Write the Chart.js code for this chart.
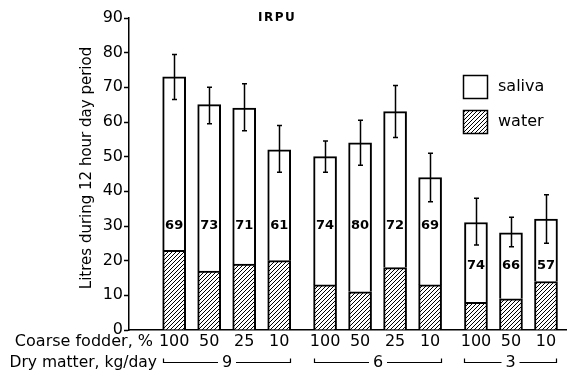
<!DOCTYPE html>
<html lang="en">
<head>
<meta charset="utf-8">
<title>IRPU</title>
<script src="https://cdn.jsdelivr.net/npm/chart.js@4.4.1/dist/chart.umd.min.js"></script>
<style>
  html, body { margin: 0; padding: 0; background: #fff; }
  #wrap { width: 567px; height: 377px; }
</style>
</head>
<body>
<div id="wrap"><canvas id="graficoSaliva" width="567" height="377"></canvas></div>
<script>
// === Data: litres per 12 h day period ===
const coarseFodder = [100, 50, 25, 10, 100, 50, 25, 10, 100, 50, 10];
const dryMatter = ["9", "6", "3"];
const groupSizes = [4, 4, 3];
const water = [23, 17, 19, 20, 13, 11, 18, 13, 8, 9, 14];
const saliva = [50, 48, 45, 32, 37, 43, 45, 31, 23, 19, 18];
const errLow = [66.5, 59.5, 57.5, 45.5, 45.5, 47.5, 55.5, 37, 24.5, 24, 25];
const errHigh = [79.5, 70, 71, 59, 54.5, 60.5, 70.5, 51, 38, 32.5, 39];
const salivaPct = [69, 73, 71, 61, 74, 80, 72, 69, 74, 66, 57];

const FONT = "'DejaVu Sans', sans-serif";
const GROUP_GAP = 0.31;

// slot index of each bar along the x axis, with a small gap between dry-matter groups
const slots = [];
let start = 0;
groupSizes.forEach((n) => {
  for (let i = 0; i < n; i++) slots.push(start + i);
  start += n + GROUP_GAP;
});

document.addEventListener("DOMContentLoaded", () => {
  const ctx = document.getElementById("graficoSaliva").getContext("2d");

  // === Hatch fill for the water part ===
  function makeHatch() {
    const c = document.createElement("canvas");
    c.width = 4;
    c.height = 4;
    const h = c.getContext("2d");
    h.fillStyle = "#fff";
    h.fillRect(0, 0, 4, 4);
    h.strokeStyle = "#000";
    h.lineWidth = 1;
    h.beginPath();
    h.moveTo(-1, 5); h.lineTo(5, -1);
    h.moveTo(-1, 1); h.lineTo(1, -1);
    h.moveTo(3, 5); h.lineTo(5, 3);
    h.stroke();
    return ctx.createPattern(c, "repeat");
  }
  const hatch = makeHatch();

  // === Error bars, percentages, legend and the labels under the axis ===
  const extras = {
    id: "extras",
    afterDatasetsDraw(chart) {
      const c = chart.ctx;
      const xs = chart.scales.x;
      const ys = chart.scales.y;
      c.save();
      c.strokeStyle = "#000";
      c.fillStyle = "#000";

      // error bars
      c.lineWidth = 1.5;
      slots.forEach((v, i) => {
        const x = Math.round(xs.getPixelForValue(v)) + 0.5;
        const y1 = ys.getPixelForValue(errLow[i]);
        const y2 = ys.getPixelForValue(errHigh[i]);
        c.beginPath();
        c.moveTo(x, y1); c.lineTo(x, y2);
        c.moveTo(x - 2.5, y1); c.lineTo(x + 2.5, y1);
        c.moveTo(x - 2.5, y2); c.lineTo(x + 2.5, y2);
        c.stroke();
      });

      // saliva share (%) inside each bar
      c.font = "bold 13px " + FONT;
      c.textAlign = "center";
      c.textBaseline = "middle";
      slots.forEach((v, i) => {
        const total = water[i] + saliva[i];
        const level = total > 40 ? 30 : 18.5;
        c.fillText(String(salivaPct[i]), xs.getPixelForValue(v), ys.getPixelForValue(level));
      });
      c.restore();
    },
    afterDraw(chart) {
      const c = chart.ctx;
      const xs = chart.scales.x;
      c.save();
      c.fillStyle = "#000";
      c.strokeStyle = "#000";

      // title
      c.font = "bold 12px " + FONT;
      c.letterSpacing = "1.5px";
      c.textAlign = "left";
      c.textBaseline = "middle";
      c.fillText("IRPU", 258, 17.5);
      c.letterSpacing = "0px";

      // y axis title
      c.save();
      c.translate(87, 168);
      c.rotate(-Math.PI / 2);
      c.font = "15px " + FONT;
      c.textAlign = "center";
      c.textBaseline = "middle";
      c.fillText("Litres during 12 hour day period", 0, 0);
      c.restore();

      // legend
      const items = [
        { label: "saliva", fill: "#fff", y: 75 },
        { label: "water", fill: hatch, y: 110 },
      ];
      c.lineWidth = 1.5;
      c.font = "16px " + FONT;
      c.textAlign = "left";
      c.textBaseline = "middle";
      items.forEach((it) => {
        c.fillStyle = it.fill;
        c.fillRect(463, it.y, 25, 23);
        c.strokeRect(463.5, it.y + 0.5, 24, 23);
        c.fillStyle = "#000";
        c.fillText(it.label, 498, it.y + 11.5);
      });

      // row captions under the axis
      c.textAlign = "right";
      c.font = "16px " + FONT;
      c.fillText("Coarse fodder, %", 153, 342);
      c.font = "15.5px " + FONT;
      c.fillText("Dry matter, kg/day", 157, 363);

      // dry matter brackets
      const half = 11.5;
      let k = 0;
      c.lineWidth = 1.2;
      c.textAlign = "center";
      c.font = "16px " + FONT;
      groupSizes.forEach((n, g) => {
        const x0 = Math.round(xs.getPixelForValue(slots[k]) - half);
        const x1 = Math.round(xs.getPixelForValue(slots[k + n - 1]) + half);
        const mid = (x0 + x1) / 2;
        const y = 362.5;
        c.beginPath();
        c.moveTo(x0 + 0.5, y - 4); c.lineTo(x0 + 0.5, y); c.lineTo(mid - 9, y);
        c.moveTo(mid + 9, y); c.lineTo(x1 - 0.5, y); c.lineTo(x1 - 0.5, y - 4);
        c.stroke();
        c.fillText(dryMatter[g], mid, 363);
        k += n;
      });
      c.restore();
    },
  };

  const barStyle = {
    borderColor: "#000",
    borderWidth: 2,
    barThickness: 23,
    stack: "total",
  };

  new Chart(ctx, {
    type: "bar",
    data: {
      datasets: [
        {
          ...barStyle,
          label: "water",
          data: slots.map((x, i) => ({ x, y: water[i] })),
          backgroundColor: hatch,
        },
        {
          ...barStyle,
          label: "saliva",
          data: slots.map((x, i) => ({ x, y: saliva[i] })),
          backgroundColor: "#fff",
        },
      ],
    },
    options: {
      responsive: false,
      animation: false,
      layout: { padding: { top: 18, right: 0, bottom: 0, left: 0 } },
      plugins: {
        legend: { display: false },
        tooltip: { enabled: false },
      },
      scales: {
        x: {
          type: "linear",
          offset: false,
          min: -1.29,
          max: 11.22,
          stacked: true,
          afterBuildTicks: (s) => {
            s.ticks = slots.map((v) => ({ value: v }));
          },
          afterFit: (s) => {
            s.height = 47;
          },
          ticks: {
            autoSkip: false,
            maxRotation: 0,
            padding: 2,
            color: "#000",
            font: { family: FONT, size: 16 },
            callback: (v, i) => coarseFodder[i],
          },
          grid: { drawOnChartArea: false, drawTicks: false },
          border: { color: "#000", width: 1.5 },
        },
        y: {
          min: 0,
          max: 90,
          stacked: true,
          afterFit: (s) => {
            s.width = 129;
          },
          ticks: {
            stepSize: 10,
            padding: 1,
            color: "#000",
            font: { family: FONT, size: 16 },
          },
          grid: { drawOnChartArea: false, tickLength: 5, tickColor: "#000", tickWidth: 1.5 },
          border: { color: "#000", width: 1.5 },
        },
      },
    },
    plugins: [extras],
  });
});
</script>
</body>
</html>
